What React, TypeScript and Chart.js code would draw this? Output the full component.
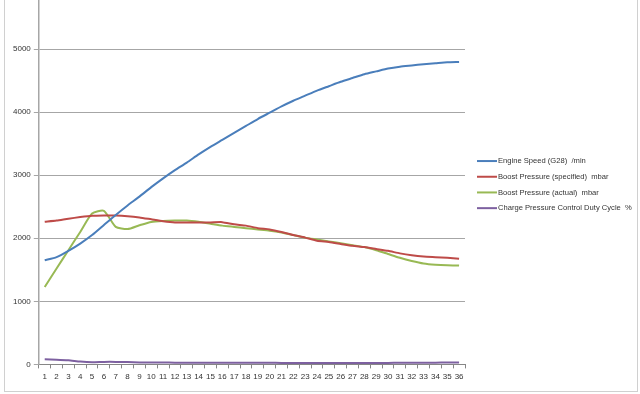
import React, { useEffect, useRef } from "react";
import { Chart, registerables } from "chart.js";

Chart.register(...registerables);

const categories = Array.from({ length: 36 }, (_, i) => String(i + 1));

const engineSpeed = [
  1650, 1700, 1800, 1915, 2050, 2210, 2370, 2520, 2660, 2810, 2950, 3080,
  3200, 3330, 3450, 3560, 3670, 3780, 3890, 3990, 4090, 4180, 4260, 4340,
  4410, 4480, 4540, 4600, 4645, 4690, 4720, 4740, 4760, 4775, 4790, 4795,
];
const boostSpecified = [
  2260, 2280, 2310, 2335, 2355, 2360, 2360, 2350, 2330, 2300, 2270, 2250,
  2250, 2250, 2250, 2255, 2220, 2200, 2160, 2140, 2100, 2050, 2010, 1960,
  1940, 1910, 1880, 1860, 1830, 1800, 1760, 1730, 1710, 1700, 1690, 1675,
];
const boostActual = [
  1227, 1520, 1810, 2100, 2392, 2434, 2180, 2145, 2206, 2259, 2275, 2280,
  2280, 2260, 2230, 2200, 2180, 2160, 2140, 2120, 2090, 2050, 2010, 1980,
  1950, 1920, 1890, 1860, 1810, 1750, 1690, 1640, 1600, 1580, 1570, 1566,
];
const dutyCycle = [
  80, 75, 65, 45, 35, 40, 40, 38, 32, 30, 30, 28, 28, 27, 27, 26, 26, 25,
  25, 25, 24, 24, 24, 23, 23, 23, 23, 23, 24, 24, 25, 26, 27, 28, 29, 30,
];

const seriesNames = [
  "Engine Speed (G28)  /min",
  "Boost Pressure (specified)  mbar",
  "Boost Pressure (actual)  mbar",
  "Charge Pressure Control Duty Cycle  %",
];
const seriesColors = ["#4A7EBB", "#BE4B48", "#98B954", "#7D60A0"];
const yTicks = [0, 1000, 2000, 3000, 4000, 5000];

const FONT_FAMILY = "'Liberation Sans', Arial, sans-serif";

const sideLegend = {
  id: "sideLegend",
  afterDraw(chart: any) {
    const { ctx, chartArea } = chart;
    const x0 = chartArea.right + 12;
    const rowGap = 15.7;
    const mid = (chartArea.top + chartArea.bottom) / 2 + 2.5;
    const n = chart.data.datasets.length;
    ctx.save();
    ctx.font = `7.6px ${FONT_FAMILY}`;
    ctx.textBaseline = "middle";
    ctx.textAlign = "left";
    chart.data.datasets.forEach((ds: any, i: number) => {
      const y = mid + (i - (n - 1) / 2) * rowGap;
      ctx.strokeStyle = ds.borderColor;
      ctx.lineWidth = 2;
      ctx.beginPath();
      ctx.moveTo(x0, y);
      ctx.lineTo(x0 + 20, y);
      ctx.stroke();
      ctx.fillStyle = "#333333";
      ctx.fillText(ds.label, x0 + 21, y);
    });
    ctx.restore();
  },
};

export default function App() {
  const ref = useRef<HTMLCanvasElement | null>(null);

  useEffect(() => {
    if (!ref.current) return;
    const values = [engineSpeed, boostSpecified, boostActual, dutyCycle];
    const font = { family: FONT_FAMILY, size: 8 };
    const chart = new Chart(ref.current, {
      type: "line",
      data: {
        labels: categories,
        datasets: values.map((v, i) => ({
          label: seriesNames[i],
          data: v,
          borderColor: seriesColors[i],
          backgroundColor: seriesColors[i],
          borderWidth: 2,
          pointRadius: 0,
          tension: 0.2,
          fill: false,
        })),
      },
      plugins: [sideLegend],
      options: {
        responsive: false,
        animation: false,
        layout: { padding: { left: 6, right: 175, top: 0, bottom: 0 } },
        plugins: {
          tooltip: { enabled: false },
          legend: { display: false },
        },
        scales: {
          x: {
            type: "category",
            offset: true,
            grid: {
              display: true,
              drawOnChartArea: false,
              drawTicks: true,
              tickLength: 4,
              color: "#868686",
              offset: true,
            },
            border: { display: true, color: "#868686", width: 1 },
            ticks: { color: "#333333", font, maxRotation: 0, autoSkip: false, padding: 4 },
          },
          y: {
            min: 0,
            max: 5780,
            afterBuildTicks: (axis: any) => {
              axis.ticks = yTicks.map((v) => ({ value: v }));
            },
            grid: { color: "#a6a6a6", tickLength: 5, drawTicks: true },
            border: { display: true, color: "#a6a6a6", width: 1.5 },
            ticks: {
              color: "#333333",
              font,
              padding: 3,
              callback: (v: any) => String(v),
            },
          },
        },
      },
    });
    return () => chart.destroy();
  }, []);

  return (
    <div
      style={{
        position: "fixed",
        left: 0,
        top: 0,
        width: 640,
        height: 394,
        background: "#ffffff",
        overflow: "hidden",
      }}
    >
      <div
        style={{
          position: "absolute",
          left: 4,
          top: -2,
          width: 634,
          height: 394,
          border: "1px solid #d0d0d0",
          boxSizing: "border-box",
        }}
      />
      <canvas
        ref={ref}
        width={636}
        height={394}
        style={{ position: "absolute", left: 4, top: -8, width: 636, height: 394 }}
      />
    </div>
  );
}
